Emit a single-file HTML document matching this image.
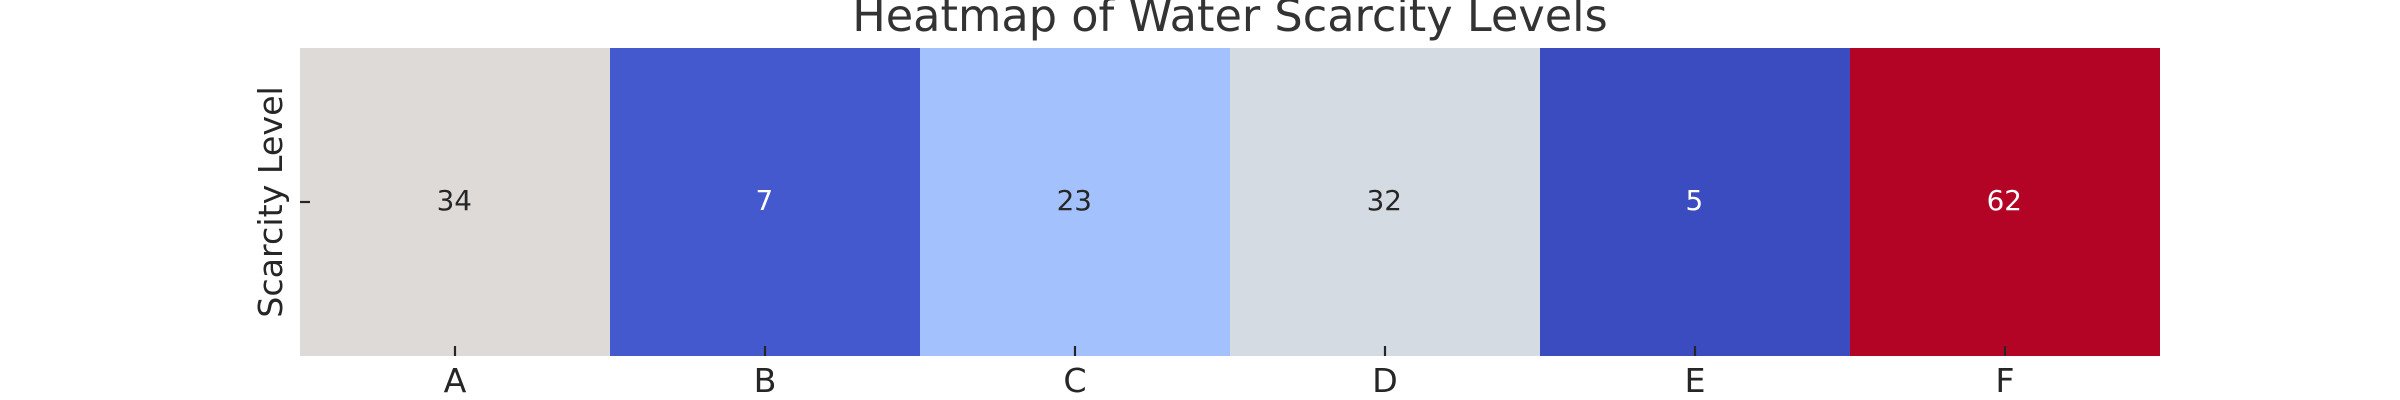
<!DOCTYPE html>
<html>
<head>
<meta charset="utf-8">
<title>Heatmap of Water Scarcity Levels</title>
<style>
html,body{margin:0;padding:0;background:#fff;width:2400px;height:400px;overflow:hidden}
svg{display:block;font-family:"DejaVu Sans","Liberation Sans",sans-serif}
</style>
</head>
<body>
<svg id="chart" xmlns="http://www.w3.org/2000/svg" width="2400" height="400" viewBox="0 0 2400 400">
  <rect width="2400" height="400" fill="#ffffff"/>
  <g id="cells"></g>
  <g id="annotations"></g>
  <g id="x-axis"></g>
  <g id="y-axis"></g>
  <text x="1230" y="31" text-anchor="middle" font-size="44.6" fill="#333333">Heatmap of Water Scarcity Levels</text>
  <text transform="translate(282 202) rotate(-90)" text-anchor="middle" font-size="33.3" fill="#262626">Scarcity Level</text>
</svg>
<script>
const categories = ['A', 'B', 'C', 'D', 'E', 'F'];
const scarcityValues = [34, 7, 23, 32, 5, 62];
const rowLabels = [''];

const NS = 'http://www.w3.org/2000/svg';
const plot = { left: 300, right: 2160, top: 48, bottom: 356 };
const colorStops = [
  [0, 59, 76, 192], [0.035, 68, 89, 205], [0.316, 163, 193, 253],
  [0.474, 213, 219, 227], [0.5, 221, 221, 221], [0.509, 222, 218, 216],
  [0.75, 244, 150, 120], [1, 180, 4, 38]
];

function xBand(i) {
  return plot.left + i * (plot.right - plot.left) / categories.length;
}
function bandWidth() {
  return (plot.right - plot.left) / categories.length;
}
function colorParts(value) {
  const lo = Math.min(...scarcityValues);
  const hi = Math.max(...scarcityValues);
  const t = hi === lo ? 0.5 : (value - lo) / (hi - lo);
  for (let i = 1; i < colorStops.length; i++) {
    const a = colorStops[i - 1];
    const b = colorStops[i];
    if (t <= b[0]) {
      const f = (t - a[0]) / (b[0] - a[0]);
      return [1, 2, 3].map(k => Math.round(a[k] + (b[k] - a[k]) * f));
    }
  }
  return colorStops[colorStops.length - 1].slice(1);
}
function luminance(rgb) {
  const c = rgb.map(v => {
    const s = v / 255;
    return s <= 0.03928 ? s / 12.92 : Math.pow((s + 0.055) / 1.055, 2.4);
  });
  return 0.2126 * c[0] + 0.7152 * c[1] + 0.0722 * c[2];
}
function make(tag, attrs, parent) {
  const el = document.createElementNS(NS, tag);
  for (const k in attrs) el.setAttribute(k, attrs[k]);
  parent.appendChild(el);
  return el;
}

const cellsG = document.getElementById('cells');
const annG = document.getElementById('annotations');
const xG = document.getElementById('x-axis');
const yG = document.getElementById('y-axis');
const midY = (plot.top + plot.bottom) / 2;

categories.forEach((cat, i) => {
  const rgb = colorParts(scarcityValues[i]);
  const cx = xBand(i) + bandWidth() / 2;

  const cell = make('rect', {
    x: xBand(i), y: plot.top, width: bandWidth(), height: plot.bottom - plot.top,
    fill: 'rgb(' + rgb.join(',') + ')'
  }, cellsG);
  
  

  const ann = make('text', {
    x: cx - 0.7, y: 210, 'text-anchor': 'middle', 'font-size': 27.8,
    fill: luminance(rgb) < 0.408 ? '#ffffff' : '#262626'
  }, annG);
  ann.textContent = scarcityValues[i];
  
  

  const tick = make('line', {
    x1: cx, x2: cx, y1: plot.bottom - 10, y2: plot.bottom,
    stroke: '#262626', 'stroke-width': 2.2
  }, xG);
  
  

  const label = make('text', {
    x: cx, y: 392, 'text-anchor': 'middle', 'font-size': 33.3, fill: '#262626'
  }, xG);
  label.textContent = cat;
  
  
});

rowLabels.forEach(() => {
  const tick = make('line', {
    x1: plot.left, x2: plot.left + 10, y1: midY, y2: midY,
    stroke: '#262626', 'stroke-width': 2.2
  }, yG);
  
  
});
</script>
</body>
</html>
